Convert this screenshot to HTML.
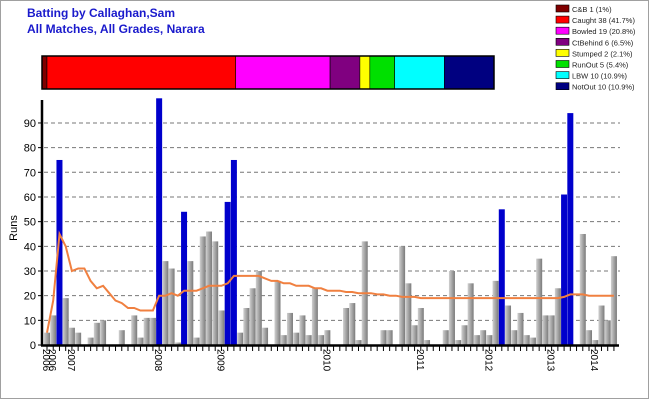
<!DOCTYPE html>
<html><head><meta charset="utf-8"><style>
body{margin:0;background:#fff;}
svg{display:block;font-family:"Liberation Sans",sans-serif;}
</style></head><body>
<svg id="chart" width="650" height="400" viewBox="0 0 650 400" xmlns="http://www.w3.org/2000/svg">
<defs>
<linearGradient id="gray" x1="0" x2="1" y1="0" y2="0"><stop offset="0" stop-color="#d0d0d0"/><stop offset="1" stop-color="#7a7a7a"/></linearGradient>
</defs>
<rect x="0.5" y="0.5" width="648" height="398" fill="#fff" stroke="#a0a0a0"/>
<text x="27" y="17" font-size="12" font-weight="bold" fill="#1a1acc">Batting by Callaghan,Sam</text>
<text x="27" y="33" font-size="12" font-weight="bold" fill="#1a1acc">All Matches, All Grades, Narara</text>
<text transform="translate(17,228) rotate(-90)" font-size="11" text-anchor="middle">Runs</text>
<g id="stack"></g>
<g id="legend"></g>
<g id="grid"></g>
<g id="bars"></g>
<path id="avg" fill="none" stroke="#f08040" stroke-width="2"/>
<g id="axes"></g>
</svg>
<script>
const runs=[5,12,75,19,7,5,0,3,9,10,0,0,6,0,12,3,11,11,100,34,31,1,54,34,3,44,46,42,14,58,75,5,15,23,30,7,0,26,4,13,5,12,4,23,4,6,0,0,15,17,2,42,0,0,6,6,0,40,25,8,15,2,0,0,6,30,2,8,25,4,6,4,26,55,16,6,13,4,3,35,12,12,23,61,94,0,45,6,2,16,10,36];
const notOut=[2,18,22,29,30,73,83,84];
const avg=[5,18,45,40,30,31,31,26,23,24,21,18,17,15,15,14,14,14,20,20,21,20,22,22,22,23,24,24,24,25,28,28,28,28,28,27,26,26,25,25,24,24,24,23,23,22,22,22,21.5,21.5,21,21,21,20.5,20.5,20,20,19.5,19.5,19.5,19,19,19,19,19,19,19,19,19,19,19,19,19,19,19,19,19,19,19,19,19,19,19,19.5,20.5,20.5,20.5,20,20,20,20,20];
const yTicks=[0,10,20,30,40,50,60,70,80,90];
const yearLabels=["2006","2006","2007","2008","2009","2010","2011","2012","2013","2014"];
const yearSlots=[0,1,4,18,28,45,60,71,81,88];
const stackNames=["C&B 1 (1%)","Caught 38 (41.7%)","Bowled 19 (20.8%)","CtBehind 6 (6.5%)","Stumped 2 (2.1%)","RunOut 5 (5.4%)","LBW 10 (10.9%)","NotOut 10 (10.9%)"];
const stackCounts=[1,38,19,6,2,5,10,10];
const stackColors=["#800000","#ff0000","#ff00ff","#800080","#ffff00","#00e000","#00ffff","#000080"];
const NS="http://www.w3.org/2000/svg";
function mk(t,a,p){const e=document.createElementNS(NS,t);for(const k in a)e.setAttribute(k,a[k]);p.appendChild(e);return e;}
const X0=44,SW=6.23,Y0=345,YS=2.467;
const xs=i=>X0+i*SW;
const ys=v=>Y0-v*YS;
// stack bar
const st=document.getElementById('stack');
const total=stackCounts.reduce((a,b)=>a+b,0);
let sx=42;const sw=452;
stackCounts.forEach((c,i)=>{const w=c/total*sw;
 const r=mk('rect',{x:sx,y:56,width:w,height:33,fill:stackColors[i],stroke:'#000','stroke-width':0.6},st);
 
 
 sx+=w;});
mk('rect',{x:42,y:56,width:sw,height:33,fill:'none',stroke:'#000','stroke-width':1.5},st);
// legend
const lg=document.getElementById('legend');
stackNames.forEach((n,i)=>{const y=5+i*11.1;
 const r=mk('rect',{x:556,y:y,width:13,height:7,fill:stackColors[i],stroke:'#000','stroke-width':0.6},lg);
 
 
 const t=mk('text',{x:572,y:y+7,'font-size':7.5,fill:'#222'},lg);t.textContent=n;
 
 });
// grid + y ticks
const gr=document.getElementById('grid'),ax=document.getElementById('axes');
yTicks.forEach(v=>{const y=ys(v);
 if(v>0){const l=mk('line',{x1:44,x2:620,y1:y,y2:y,stroke:'#777','stroke-dasharray':'4,3'},gr);
 
 }
 mk('line',{x1:38,x2:42,y1:y,y2:y,stroke:'#000'},ax);
 const t=mk('text',{x:36,y:y+4,'font-size':11,'text-anchor':'end'},ax);t.textContent=v;
 
 });
// bars
const bg=document.getElementById('bars');
runs.forEach((v,i)=>{if(v<=0)return;const blue=notOut.includes(i);
 const r=mk('rect',{x:xs(i),y:ys(v),width:6,height:v*YS,fill:blue?'#0000cc':'url(#gray)'},bg);
 
 });
// avg line
document.getElementById('avg').setAttribute('d',avg.map((v,i)=>(i?'L':'M')+(xs(i)+3).toFixed(1)+','+ys(v).toFixed(1)).join(''));
// axes
mk('line',{x1:42,x2:42,y1:100,y2:346,stroke:'#000','stroke-width':2.5},ax);
mk('line',{x1:41,x2:619,y1:345.5,y2:345.5,stroke:'#000','stroke-width':2.5},ax);
runs.forEach((v,i)=>{mk('line',{x1:xs(i)+3,x2:xs(i)+3,y1:346,y2:351,stroke:'#000'},ax);});
yearLabels.forEach((s,k)=>{const x=xs(yearSlots[k])+3;
 const t=mk('text',{transform:`translate(${x-4},349) rotate(90)`,'font-size':10},ax);t.textContent=s;
 
 });
</script>
</body></html>
